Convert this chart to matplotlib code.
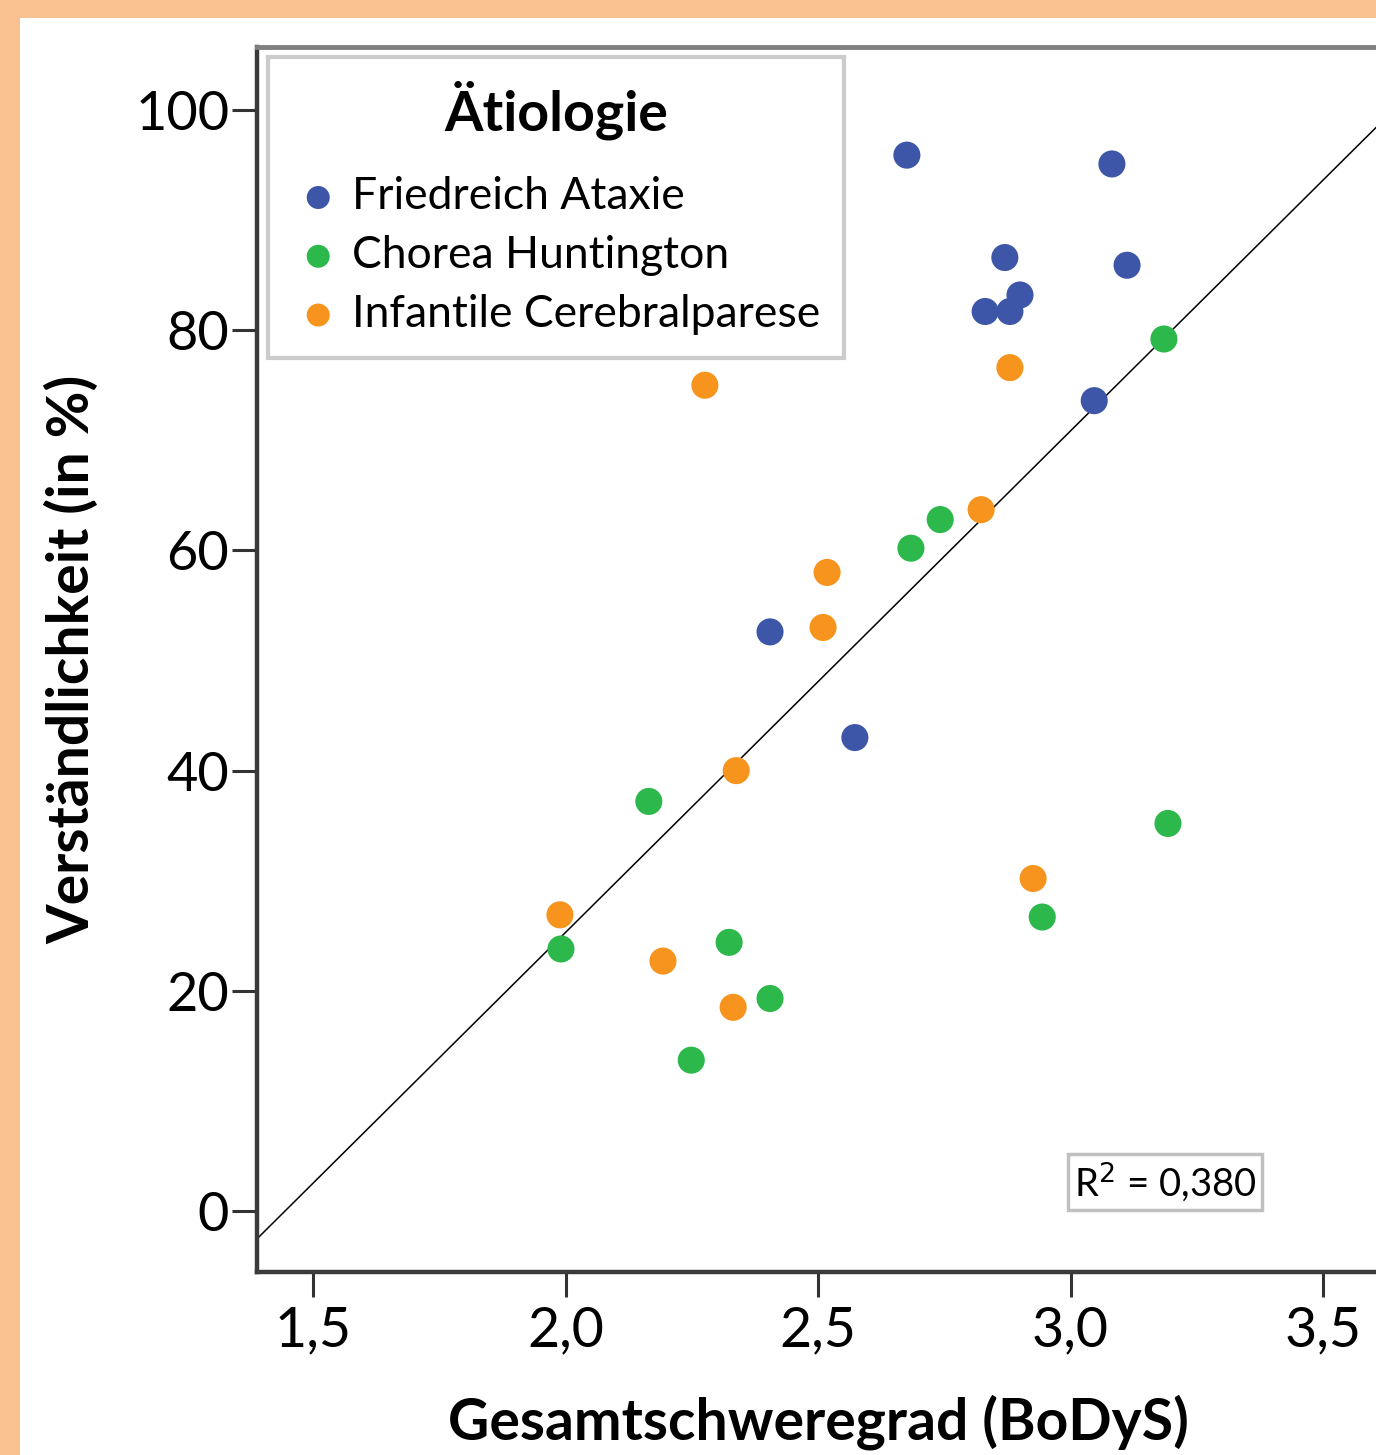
import matplotlib
matplotlib.use("Agg")
import matplotlib.pyplot as plt
from matplotlib.patches import Rectangle
import numpy as np

# ---- data ----
fa_x = [2.676, 3.082, 2.870, 3.112, 2.831, 2.880, 2.900, 3.047, 2.405, 2.573]
fa_y = [95.9, 95.1, 86.6, 85.9, 81.7, 81.7, 83.2, 73.6, 52.6, 43.0]
ch_x = [3.185, 2.742, 2.684, 2.165, 3.193, 2.944, 1.991, 2.324, 2.405, 2.249]
ch_y = [79.2, 62.8, 60.2, 37.2, 35.2, 26.7, 23.8, 24.4, 19.3, 13.7]
icp_x = [2.276, 2.880, 2.823, 2.518, 2.510, 2.338, 1.989, 2.193, 2.332, 2.926]
icp_y = [75.0, 76.6, 63.7, 58.0, 53.0, 40.0, 26.9, 22.7, 18.5, 30.2]
group_names = ["Friedreich Ataxie", "Chorea Huntington", "Infantile Cerebralparese"]
x_ticks = [1.5, 2.0, 2.5, 3.0, 3.5]
x_ticklabels = ["1,5", "2,0", "2,5", "3,0", "3,5"]
y_ticks = [0, 20, 40, 60, 80, 100]
y_ticklabels = ["0", "20", "40", "60", "80", "100"]
r2_text = "R$^2$ = 0,380"

colors = ["#3E56A8", "#2DB84B", "#F7941D"]
W, H = 1376, 1455
plt.rcParams['font.family'] = ['Lato', 'DejaVu Sans']

fig = plt.figure(figsize=(W / 100, H / 100), dpi=100, facecolor="#F9C18F")
fig.patches.append(Rectangle((20 / W, 0), 1, 1 - 18 / H, transform=fig.transFigure,
                             facecolor="white", edgecolor="none", zorder=-10))

left_px, right_px, top_px, bot_px = 257, 1379, 47, 1272
ax = fig.add_axes([left_px / W, 1 - bot_px / H, (right_px - left_px) / W, (bot_px - top_px) / H])
ax.set_zorder(5)
ax.set_facecolor("white")

px_per_x = 505.0
x0 = 1.5 - (313 - left_px) / px_per_x
x1 = 1.5 + (right_px - 313) / px_per_x
px_per_y = 110.1 / 10
y0 = 0 - (bot_px - 1211) / px_per_y
y1 = 100 + (110 - top_px) / px_per_y
ax.set_xlim(x0, x1)
ax.set_ylim(y0, y1)

for xs, ys, c, n in zip([fa_x, ch_x, icp_x], [fa_y, ch_y, icp_y], colors, group_names):
    ax.scatter(xs, ys, s=380, color=c, edgecolors="none", label=n, zorder=3)

all_x = np.array(fa_x + ch_x + icp_x)
all_y = np.array(fa_y + ch_y + icp_y)
b, a = np.polyfit(all_x, all_y, 1)
lx = np.array([x0, x1])
ax.plot(lx, a + b * lx, color="black", lw=1.1, zorder=2)

ax.set_xticks(x_ticks)
ax.set_xticklabels(x_ticklabels)
ax.set_yticks(y_ticks)
ax.set_yticklabels(y_ticklabels)
ax.tick_params(axis="both", direction="out", length=18, width=2.2, color="#333333",
               labelsize=39, labelcolor="black")
ax.tick_params(axis="x", labelsize=40)
ax.tick_params(axis="y", pad=2)
ax.tick_params(axis="x", pad=6)

ax.spines["right"].set_visible(False)
ax.spines["top"].set_color("#808080")
ax.spines["top"].set_linewidth(3.5)
ax.spines["left"].set_color("#3A3A3A")
ax.spines["left"].set_linewidth(3.2)
ax.spines["bottom"].set_color("#3A3A3A")
ax.spines["bottom"].set_linewidth(3.2)

ax.set_xlabel("Gesamtschweregrad (BoDyS)", fontsize=41, fontweight="bold", labelpad=27)
ax.set_ylabel("Verständlichkeit (in %)", fontsize=41, fontweight="bold", labelpad=26)

leg = ax.legend(loc="upper left", bbox_to_anchor=(268 / W, 1 - 57 / H),
                bbox_transform=fig.transFigure, borderaxespad=0,
                title="Ätiologie", title_fontproperties={"size": 40, "weight": "bold"},
                fontsize=32, frameon=True, fancybox=False, handletextpad=0.16,
                labelspacing=0.40, borderpad=0.53, handlelength=1.2, markerscale=0.85)
leg._legend_box.sep = 26
leg.get_frame().set_edgecolor("#CCCCCC")
leg.get_frame().set_linewidth(3)
leg.get_frame().set_facecolor("white")
leg.get_frame().set_alpha(1)

ax.text(1165 / W, 1 - 1182 / H, r2_text, transform=fig.transFigure, fontsize=27.5,
        ha="center", va="center",
        bbox=dict(boxstyle="square,pad=0.15", facecolor="white", edgecolor="#C0C0C0", linewidth=2.5))

fig.savefig("out.png", dpi=100, facecolor=fig.get_facecolor())
